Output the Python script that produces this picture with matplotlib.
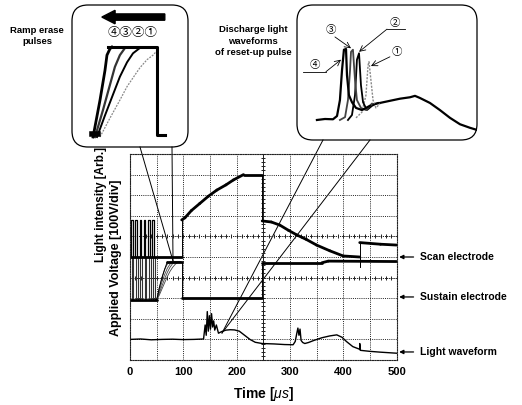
import matplotlib
matplotlib.use("Agg")
import matplotlib.pyplot as plt
from matplotlib.patches import FancyBboxPatch, FancyArrow
from matplotlib.collections import LineCollection
import numpy as np

plt.rcParams['font.family'] = ['Liberation Sans', 'DejaVu Sans']
plt.rcParams['mathtext.fontset'] = 'custom'
plt.rcParams['mathtext.it'] = 'Liberation Sans:italic'
plt.rcParams['mathtext.rm'] = 'Liberation Sans:bold'

W, H = 522, 405
CJK = ['Noto Sans CJK JP', 'DejaVu Sans']

# ---- main oscillogram data (time in us, voltage in divisions) ----
tick_times = [0, 100, 200, 300, 400, 500]

pulse_t = [2, 10, 18, 26, 34, 42]
pulse_w = 3
scan_low, scan_high = 5.0, 6.8
sus_low, sus_high = 2.9, 5.0

scan_t = [0, 97, 97, 103, 115, 131, 147, 163, 180, 194, 213, 248, 248, 265, 281,
          297, 313, 331, 350, 375, 400, 431, 431, 431, 470, 500]
scan_v = [5.0, 5.0, 6.8, 6.9, 7.25, 7.6, 7.95, 8.25, 8.5, 8.74, 9.0, 9.0, 6.75, 6.7,
          6.55, 6.3, 6.07, 5.85, 5.58, 5.3, 5.05, 5.0, 4.5, 5.7, 5.62, 5.58]

sus_t = [0, 50, 55, 60, 65, 70, 97, 97, 248, 248, 360, 372, 500]
sus_v = [2.9, 2.9, 3.5, 4.0, 4.4, 4.77, 4.77, 3.0, 3.0, 4.72, 4.72, 4.8, 4.78]

ramp_t = [50, 55, 60, 65, 70, 75, 80, 85, 90, 95]
ramp_a = [2.9, 3.5, 4.0, 4.4, 4.65, 4.77, 4.77, 4.77, 4.77, 4.77]
ramp_b = [2.9, 3.35, 3.8, 4.15, 4.45, 4.65, 4.77, 4.77, 4.77, 4.77]
ramp_c = [2.9, 3.25, 3.6, 3.95, 4.25, 4.5, 4.68, 4.77, 4.77, 4.77]
ramp_d = [2.9, 3.15, 3.45, 3.75, 4.05, 4.3, 4.5, 4.65, 4.75, 4.77]

light_t = [0, 20, 40, 60, 80, 100, 120, 138, 141, 143, 145, 147, 149, 151, 153, 155,
           157, 159, 162, 166, 172, 180, 188, 196, 205, 215, 225, 235, 248, 270, 290,
           306, 310, 313, 315, 317, 319, 321, 324, 328, 335, 345, 360, 375, 388, 398,
           406, 418, 431, 431, 432, 450, 470, 500]
light_v = [1.0, 1.02, 0.98, 1.0, 1.01, 0.99, 1.0, 1.02, 1.7, 1.2, 2.35, 1.4, 2.15, 1.5,
           2.25, 1.6, 1.9, 1.45, 1.7, 1.3, 1.38, 1.45, 1.47, 1.46, 1.4, 1.2, 1.0, 0.86,
           0.8, 0.78, 0.75, 0.74, 0.9, 1.3, 1.55, 1.2, 1.5, 0.95, 0.85, 0.8, 0.85, 0.95,
           1.08, 1.17, 1.22, 1.1, 0.9, 0.65, 0.52, 0.8, 0.47, 0.42, 0.38, 0.33]

# ---- left inset: ramp erase pulses (time us, normalised voltage) ----
r4_t = [47.7, 51.9, 54.9, 56.1, 57.9, 59.1]
r4_v = [0, 0.41, 0.74, 0.91, 0.98, 1.0]
r3_t = [48.9, 53.7, 57.9, 60.9, 63.9, 67.0]
r3_v = [0, 0.30, 0.58, 0.78, 0.91, 0.99]
r2_t = [50.1, 54.9, 59.7, 63.9, 68.2, 71.8, 76.0]
r2_v = [0, 0.24, 0.47, 0.67, 0.83, 0.93, 0.99]
r1_t = [51.9, 57.9, 63.9, 68.2, 73.0, 76.0, 80.3, 83.9, 86.3]
r1_v = [0, 0.21, 0.41, 0.56, 0.69, 0.77, 0.86, 0.91, 0.96]
top_t = [57.0, 86.3, 86.3, 86.3, 91.0]
top_v = [1.0, 1.0, 0.5, 0.02, 0.02]

# ---- right inset: discharge light waveforms (time us, normalised intensity) ----
w4_t = [124.4, 130.2, 136.0, 138.9, 141.0, 142.5, 143.9, 145.4, 146.1, 147.5, 149.7,
        152.6, 156.9, 162.7]
w4_i = [0, 0.014, 0.01, 0.056, 0.28, 0.70, 0.99, 1.0, 0.63, 0.35, 0.25, 0.17, 0.14, 0.20]
w3_t = [141.0, 144.7, 146.8, 148.3, 149.0, 150.4, 151.9, 153.3, 156.2, 159.8, 164.2]
w3_i = [0, 0.04, 0.28, 0.70, 0.96, 0.99, 0.56, 0.28, 0.17, 0.14, 0.23]
w2_t = [146.8, 149.7, 151.9, 153.3, 154.8, 156.2, 157.7, 160.5, 164.2, 168.5]
w2_i = [0, 0.07, 0.35, 0.85, 0.94, 0.49, 0.25, 0.14, 0.20, 0.24]
w1_t = [152.6, 156.9, 159.8, 161.3, 162.0, 163.4, 164.9, 167.0, 169.9]
w1_i = [0.03, 0.11, 0.35, 0.77, 0.82, 0.56, 0.28, 0.17, 0.23]
hump_t = [164.2, 169.9, 177.1, 184.4, 191.6, 195.2, 198.8, 206.0, 213.2, 220.5, 227.7,
          234.9, 240.0]
hump_i = [0.22, 0.24, 0.27, 0.30, 0.32, 0.34, 0.31, 0.24, 0.14, 0.03, -0.06, -0.11, -0.14]


def px_box(x0, y0, x1, y1):
    return [x0 / W, 1 - y1 / H, (x1 - x0) / W, (y1 - y0) / H]


def trace(ax, t, v, thick=2.0, thin=0.7):
    # steep edges of the scope trace come out thin, the settled parts thick
    t = np.asarray(t, float)
    v = np.asarray(v, float)
    segs = [[(t[i], v[i]), (t[i + 1], v[i + 1])] for i in range(len(t) - 1)]
    widths = []
    for i in range(len(t) - 1):
        dt = t[i + 1] - t[i]
        steep = dt == 0 or abs((v[i + 1] - v[i]) / dt) > 0.05
        widths.append(thin if steep else thick)
    ax.add_collection(LineCollection(segs, colors='black', linewidths=widths,
                                     capstyle='round'))


fig = plt.figure(figsize=(W / 100, H / 100), dpi=100)

# overlay in pixel coordinates for boxes, leader lines and free text
ov = fig.add_axes([0, 0, 1, 1])
ov.set_xlim(0, W)
ov.set_ylim(H, 0)
ov.axis('off')

# ---- main axes ----
ax = fig.add_axes(px_box(130, 154, 396.5, 360))
ax.set_xlim(0, 500)
ax.set_ylim(0, 10)
ax.set_facecolor('none')
ax.set_xticks(tick_times)
ax.set_xticklabels([str(t) for t in tick_times], fontsize=8, fontweight='bold')
ax.set_xticks(np.arange(50, 500, 100), minor=True)
ax.set_yticks(np.arange(1, 10))
ax.set_yticklabels([])
ax.tick_params(length=0, which='both', pad=5)
ax.grid(True, which='both', color='#222222', lw=0.7, ls=(0, (1, 1.2)))
for s in ax.spines.values():
    s.set_linestyle((0, (1, 1.2)))
    s.set_linewidth(0.8)
    s.set_color('#222222')

# centre graticule lines with small ticks
mt = np.arange(0, 501, 10)
for yc in [4, 6]:
    ax.plot(mt, [yc] * len(mt), color='#222222', lw=0.7, ls=(0, (1, 1.2)),
            marker='|', ms=3, mew=0.7)
mv = np.arange(0, 10.01, 0.2)
ax.plot([250] * len(mv), mv, color='#222222', lw=0.7, marker='_', ms=3, mew=0.7)

# sustain pulses at the start
for p in pulse_t:
    ax.plot([p, p, p + pulse_w, p + pulse_w], [scan_low, scan_high, scan_high, scan_low],
            color='black', lw=0.9)
    q = p + 1.5
    ax.plot([q, q, q + pulse_w, q + pulse_w], [sus_low, sus_high, sus_high, sus_low],
            color='#333333', lw=0.8)

for rv in [ramp_a, ramp_b, ramp_c, ramp_d]:
    ax.plot(ramp_t, rv, color='#444444', lw=0.6)

trace(ax, scan_t, scan_v)
trace(ax, sus_t, sus_v)
ax.plot(light_t, light_v, color='black', lw=1.0)

ax.set_xlabel(r'Time [$\mathit{\mu s}$]', fontsize=10, fontweight='bold', labelpad=6)

for label, yv in [('Scan electrode', 5.0), ('Sustain electrode', 3.06), ('Light waveform', 0.39)]:
    ax.annotate('', xy=(505, yv), xytext=(532, yv), annotation_clip=False,
                arrowprops=dict(arrowstyle='-|>', color='black', lw=0.9,
                                mutation_scale=6, shrinkA=0, shrinkB=0))
    ax.text(545, yv, label, fontsize=7.5, fontweight='bold', va='center', ha='left',
            clip_on=False)

fig.text(116 / W, 1 - 258 / H, 'Applied Voltage [100V/div]', rotation=90, fontsize=9,
         fontweight='bold', ha='center', va='center')
fig.text(101 / W, 1 - 205 / H, 'Light intensity [Arb.]', rotation=90, fontsize=8.5,
         fontweight='bold', ha='center', va='center')

# ---- callout boxes and leader lines ----
ov.add_patch(FancyBboxPatch((72, 5), 116, 142, boxstyle='round,pad=0,rounding_size=16',
                            fc='none', ec='black', lw=0.9))
ov.add_patch(FancyBboxPatch((297, 5), 180, 135, boxstyle='round,pad=0,rounding_size=16',
                            fc='none', ec='black', lw=0.9))
ov.plot([140, 173], [147, 261], color='black', lw=0.7)
ov.plot([172, 173], [147, 261], color='black', lw=0.7)
ov.plot([323, 222], [140, 333], color='black', lw=0.7)
ov.plot([370, 222], [140, 333], color='black', lw=0.7)

ov.text(37, 36, 'Ramp erase\npulses', fontsize=6.8, fontweight='bold', ha='center',
        va='center', linespacing=1.25)
ov.text(253, 41, 'Discharge light\nwaveforms\nof reset-up pulse', fontsize=6.8,
        fontweight='bold', ha='center', va='center', linespacing=1.3)

# ---- left inset ----
a1 = fig.add_axes(px_box(72, 5, 188, 147))
a1.set_xlim(35, 105)
a1.set_ylim(-0.111, 1.467)
a1.axis('off')
a1.plot(r1_t, r1_v, color='#888888', lw=0.9, ls=(0, (1.5, 1)))
a1.plot(r2_t, r2_v, color='black', lw=1.4)
a1.plot(r3_t, r3_v, color='#333333', lw=1.6)
a1.plot(r4_t, r4_v, color='black', lw=2.0)
a1.plot(top_t, top_v, color='black', lw=2.2)
a1.plot([47.0, 50.5], [0.03, 0.03], color='black', lw=4)
a1.add_patch(FancyArrow(91, 1.333, -30, 0, width=0.07, head_width=0.15,
                        head_length=8, length_includes_head=False, color='black'))
a1.text(71.8, 1.156, '④③②①', fontsize=9, family=CJK, ha='center', va='center')

# ---- right inset ----
a2 = fig.add_axes(px_box(297, 5, 477, 140))
a2.set_xlim(110, 240)
a2.set_ylim(-0.282, 1.62)
a2.axis('off')
a2.plot(hump_t, hump_i, color='black', lw=1.6)
a2.plot(w1_t, w1_i, color='#888888', lw=1.0, ls=(0, (1.5, 1)))
a2.plot(w2_t, w2_i, color='black', lw=1.3)
a2.plot(w3_t, w3_i, color='#444444', lw=1.3)
a2.plot(w4_t, w4_i, color='black', lw=1.6)

arr = dict(arrowstyle='->', color='black', lw=0.6, shrinkA=0, shrinkB=0)
a2.text(134.5, 1.27, '③', fontsize=7.5, family=CJK, ha='center', va='center')
a2.annotate('', xy=(149.0, 1.01), xytext=(137.4, 1.17), arrowprops=arr)
a2.text(180.8, 1.37, '②', fontsize=7.5, family=CJK, ha='center', va='center')
a2.plot([175.0, 188.0], [1.28, 1.28], color='black', lw=0.6)
a2.annotate('', xy=(154.8, 0.96), xytext=(175.0, 1.28), arrowprops=arr)
a2.text(182.2, 0.96, '①', fontsize=7.5, family=CJK, ha='center', va='center')
a2.annotate('', xy=(163.4, 0.76), xytext=(177.1, 0.89), arrowprops=arr)
a2.text(123.0, 0.78, '④', fontsize=7.5, family=CJK, ha='center', va='center')
a2.plot([114.3, 130.9], [0.68, 0.68], color='black', lw=0.6)
a2.annotate('', xy=(141.8, 0.85), xytext=(130.9, 0.68), arrowprops=arr)

fig.savefig('out.png', dpi=100)
